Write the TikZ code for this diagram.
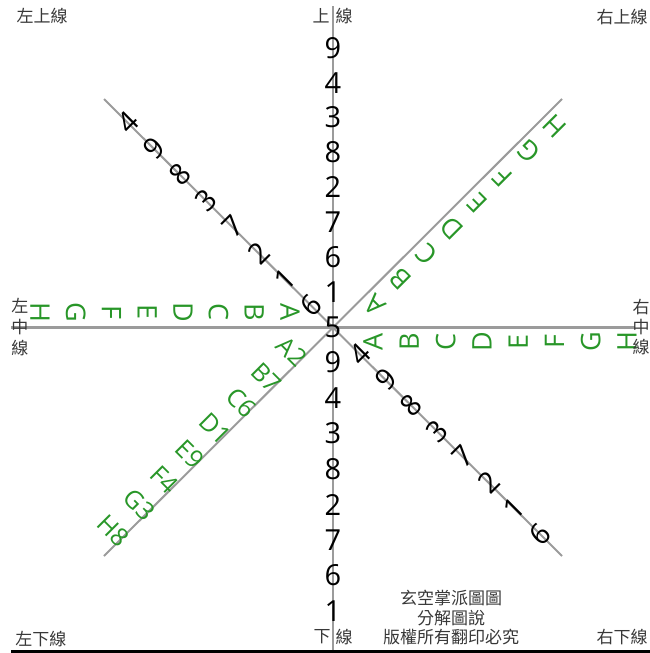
\documentclass[tikz,border=0pt]{standalone}
\usepackage{fontspec}
\setmainfont{Open Sans}
\newfontfamily\cjkfont{Noto Sans CJK TC}
\definecolor{lgreen}{RGB}{40,150,40}
\definecolor{axisgray}{RGB}{155,155,155}
\begin{document}
\begin{tikzpicture}[x=1pt,y=-1pt,
  axis/.style={draw=axisgray, line width=2pt},
  num/.style={font=\fontsize{29}{29}\selectfont, inner sep=0pt, text=black},
  let/.style={font=\fontsize{27}{27}\selectfont, inner sep=0pt, text=lgreen},
  pair/.style={font=\fontsize{25}{25}\selectfont, inner sep=0pt, text=lgreen},
  cjk/.style={font=\cjkfont\fontsize{17}{17}\selectfont, text=black!78, inner sep=0pt},
]
\useasboundingbox (0,0) rectangle (650,653);
% axes
\coordinate (C) at (333,327);
\coordinate (top) at (333,6);
\coordinate (bot) at (333,650);
\coordinate (L) at (11,327);
\coordinate (R) at (635,327);
\coordinate (NW) at (104,99);
\coordinate (NE) at (562,99);
\coordinate (SW) at (104,556);
\coordinate (SE) at (562,556);
\coordinate (BL) at (11,651);
\coordinate (BR) at (650,651);
\draw[axis] (top) -- (bot);
\draw[axis, line width=3pt] (L) -- (R);
\draw[axis] (NW) -- (SE);
\draw[axis] (SW) -- (NE);
\draw[black, line width=3pt] (BL) -- (BR);
% center
\node[num] (c5) at (C) {5};
% vertical digits
\foreach \d [count=\i] in {1,6,7,2,8,3,4,9}
  \node[num] (up\i) at (333, {327-34.9*\i}) {\d};
\foreach \d [count=\i] in {9,4,3,8,2,7,6,1}
  \node[num] (dn\i) at (333, {327+35.5*\i}) {\d};
% NW diagonal
\foreach \d [count=\i] in {6,1,2,7,3,8,9,4}
  \node[num, rotate=45] (nw\i) at ({333-(22+26.14*(\i-1))}, {327-(22+26.14*(\i-1))}) {\d};
% SE diagonal
\foreach \d [count=\i] in {4,9,8,3,7,2,1,6}
  \node[num, rotate=45] (se\i) at ({333+(27+25.7*(\i-1))}, {327+(27+25.7*(\i-1))}) {\d};
% SW diagonal
\foreach \d [count=\i] in {A2,B7,C6,D1,E9,F4,G3,H8}
  \node[pair, rotate=-45] (sw\i) at ({333-(33+25.5*(\i-1))-8}, {327+(33+25.5*(\i-1))-8}) {\d};
% NE diagonal
\foreach \d [count=\i] in {A,B,C,D,E,F,G,H}
  \node[let, rotate=135] (ne\i) at ({333+(32+25.6*(\i-1))+10}, {327-(32+25.6*(\i-1))+10}) {\d};
% right horizontal
\foreach \d [count=\i] in {A,B,C,D,E,F,G,H}
  \node[let, rotate=90] (rh\i) at ({333+40+36.3*(\i-1)}, 342) {\d};
% left horizontal
\foreach \d [count=\i] in {A,B,C,D,E,F,G,H}
  \node[let, rotate=-90] (lh\i) at ({333-43-35.7*(\i-1)}, 312) {\d};
% labels
\node[cjk] (tl) at (42,16) {左上線};
\node[cjk] (tc1) at (321,16) {上};
\node[cjk] (tc2) at (344,16) {線};
\node[cjk] (tr) at (622,17) {右上線};
\node[cjk] (ml1) at (20,306) {左};
\node[cjk] (ml2) at (20,327) {中};
\node[cjk] (ml3) at (20,348) {線};
\node[cjk] (mr1) at (641,307) {右};
\node[cjk] (mr2) at (641,327) {中};
\node[cjk] (mr3) at (641,347) {線};
\node[cjk] (bl) at (41,639) {左下線};
\node[cjk] (bc1) at (322,637) {下};
\node[cjk] (bc2) at (344,637) {線};
\node[cjk] (br) at (622,637) {右下線};
\node[cjk] (t1) at (451,598) {玄空掌派圖圖};
\node[cjk] (t2) at (451,618) {分解圖說};
\node[cjk] (t3) at (451,637) {版權所有翻印必究};
\end{tikzpicture}
\end{document}
